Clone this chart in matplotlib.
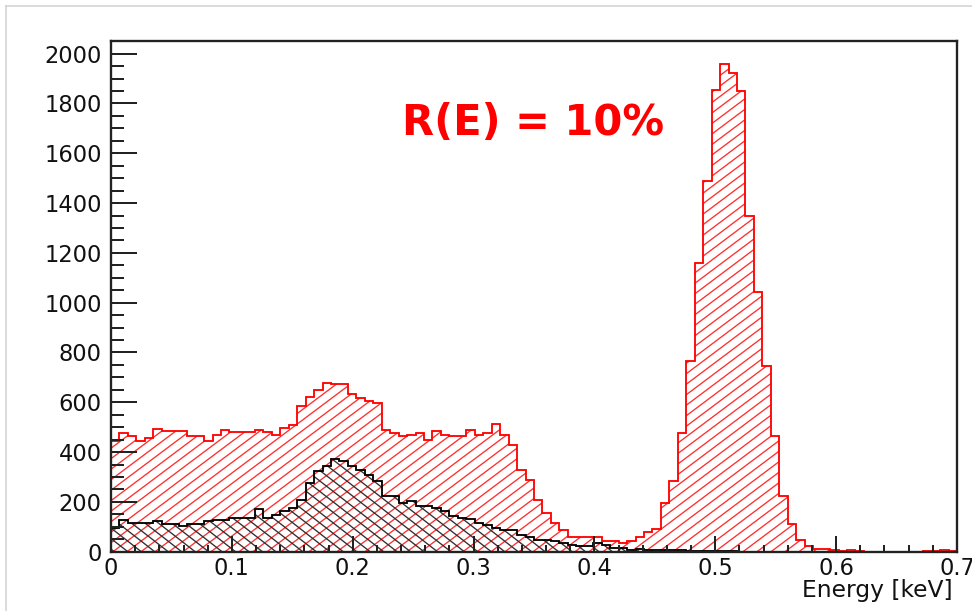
import numpy as np
import matplotlib
matplotlib.use("Agg")
import matplotlib.pyplot as plt
from matplotlib.collections import LineCollection
from matplotlib.lines import Line2D
from matplotlib.ticker import MultipleLocator
from matplotlib.transforms import IdentityTransform

# ---------------- data ----------------
x_range = (0.0, 0.7)
n_bins = 100

red_counts = [
    443, 477, 463, 443, 456, 493, 486, 486, 486, 466,
    466, 443, 470, 490, 479, 479, 479, 490, 479, 468,
    497, 510, 584, 621, 648, 677, 675, 672, 635, 617,
    604, 597, 490, 477, 463, 470, 477, 450, 483, 470,
    463, 463, 488, 470, 477, 512, 470, 430, 329, 289,
    209, 155, 115, 88, 61, 61, 61, 60, 41, 41,
    35, 41, 61, 80, 92, 196, 282, 477, 764, 1159,
    1487, 1855, 1960, 1922, 1849, 1347, 1041, 744, 463, 222,
    110, 45, 21, 10, 10, 8, 2, 5, 1, 0,
    0, 0, 0, 0, 0, 0, 1, 4, 5, 3,
]

black_counts = [
    95, 126, 115, 115, 115, 122, 112, 112, 102, 112,
    112, 122, 128, 128, 135, 135, 135, 171, 135, 149,
    162, 175, 209, 276, 323, 343, 372, 363, 343, 329,
    309, 282, 222, 222, 196, 202, 185, 185, 175, 162,
    145, 135, 133, 115, 108, 95, 88, 88, 68, 61,
    48, 45, 41, 35, 28, 24, 24, 35, 28, 15,
    13, 8, 10, 7, 7, 6, 5, 5, 4, 3,
    3, 4, 4, 2, 0, 0, 0, 0, 0, 0,
    0, 0, 0, 0, 0, 0, 0, 0, 0, 0,
    0, 0, 0, 0, 0, 0, 0, 0, 0, 0,
]

x_ticks = [0.0, 0.1, 0.2, 0.3, 0.4, 0.5, 0.6, 0.7]
x_tick_labels = ["0", "0.1", "0.2", "0.3", "0.4", "0.5", "0.6", "0.7"]
y_ticks = [0, 200, 400, 600, 800, 1000, 1200, 1400, 1600, 1800, 2000]
y_tick_labels = ["0", "200", "400", "600", "800", "1000", "1200", "1400",
                 "1600", "1800", "2000"]
annotation_text = "R(E) = 10%"
x_label = "Energy [keV]"

# ---------------- figure ----------------
W, H, DPI = 972, 611, 120
fig = plt.figure(figsize=(W / DPI, H / DPI), dpi=DPI)
fig.patch.set_facecolor("white")

ax_l, ax_r, ax_t, ax_b = 111, 957, 40.7, 551.7
ax = fig.add_axes([ax_l / W, 1 - ax_b / H, (ax_r - ax_l) / W, (ax_b - ax_t) / H])
ax.set_xlim(*x_range)
ax.set_ylim(0, 2052)
ax.set_axisbelow(False)

edges = np.linspace(x_range[0], x_range[1], n_bins + 1)


def add_hatch(ax, clip_patch, slope, spacing, color, lw, phase=0.0, z=1.5):
    x0, y0, x1, y1 = ax.bbox.extents
    w = x1 - x0
    h = y1 - y0
    span = abs(slope) * w
    cs = np.arange(-span - spacing, h + span + spacing, spacing) + phase
    segs = [[(x0, y0 + c), (x1, y0 + c + slope * w)] for c in cs]
    lc = LineCollection(segs, colors=color, linewidths=lw, zorder=z)
    lc.set_transform(IdentityTransform())
    ax.add_collection(lc, autolim=False)
    lc.set_clip_path(clip_patch)
    return lc


# red histogram
red_clip = ax.stairs(red_counts, edges, fill=True, facecolor="none",
                     edgecolor="none", linewidth=0, zorder=1)
add_hatch(ax, red_clip, 0.75, 10.5, "#ff3030", 0.8, phase=3.0)

# black histogram
black_clip = ax.stairs(black_counts, edges, fill=True, facecolor="none",
                       edgecolor="none", linewidth=0, zorder=1)
add_hatch(ax, black_clip, -0.78, 10.5, "#303030", 0.8, phase=1.0, z=1.6)

ax.stairs(red_counts, edges, color="#ff0000", linewidth=1.1, zorder=2.0)
ax.stairs(black_counts, edges, color="#000000", linewidth=1.1, zorder=2.1)

# ---------------- axes styling ----------------
for s in ax.spines.values():
    s.set_linewidth(1.4)
    s.set_color("#222222")
    s.set_zorder(3)

ax.set_xticks(x_ticks)
ax.set_xticklabels(x_tick_labels)
ax.set_yticks(y_ticks)
ax.set_yticklabels(y_tick_labels)
ax.xaxis.set_minor_locator(MultipleLocator(0.02))
ax.yaxis.set_minor_locator(MultipleLocator(50))

ax.tick_params(which="both", direction="in", top=False, right=False,
               color="#222222", labelcolor="#111111")
ax.tick_params(axis="y", which="major", length=15.6, width=1.2, pad=5.5,
               labelsize=13.5)
ax.tick_params(axis="y", which="minor", length=7.8, width=1.2)
ax.tick_params(axis="x", which="major", length=9.5, width=1.2, pad=3,
               labelsize=13.5)
ax.tick_params(axis="x", which="minor", length=4.5, width=1.2)
for lab in ax.get_xticklabels() + ax.get_yticklabels():
    lab.set_family("DejaVu Sans")

fig.text(953 / W, 1 - 597 / H, x_label, ha="right", va="baseline",
         fontsize=14, family="DejaVu Sans", color="#111111")

ax.text(0.2405, 1673, annotation_text, color="#ff0000", fontsize=25,
        fontweight="bold", family="DejaVu Sans", ha="left", va="baseline",
        zorder=4)

# slide frame lines (top and left)
fig.add_artist(Line2D([6 / W, 1.0], [1 - 6 / H, 1 - 6 / H],
                      transform=fig.transFigure, color="#d0d0d0", lw=0.9))
fig.add_artist(Line2D([6 / W, 6 / W], [0.0, 1 - 6 / H],
                      transform=fig.transFigure, color="#d0d0d0", lw=0.9))

fig.savefig("out.png", dpi=DPI, facecolor="white")
